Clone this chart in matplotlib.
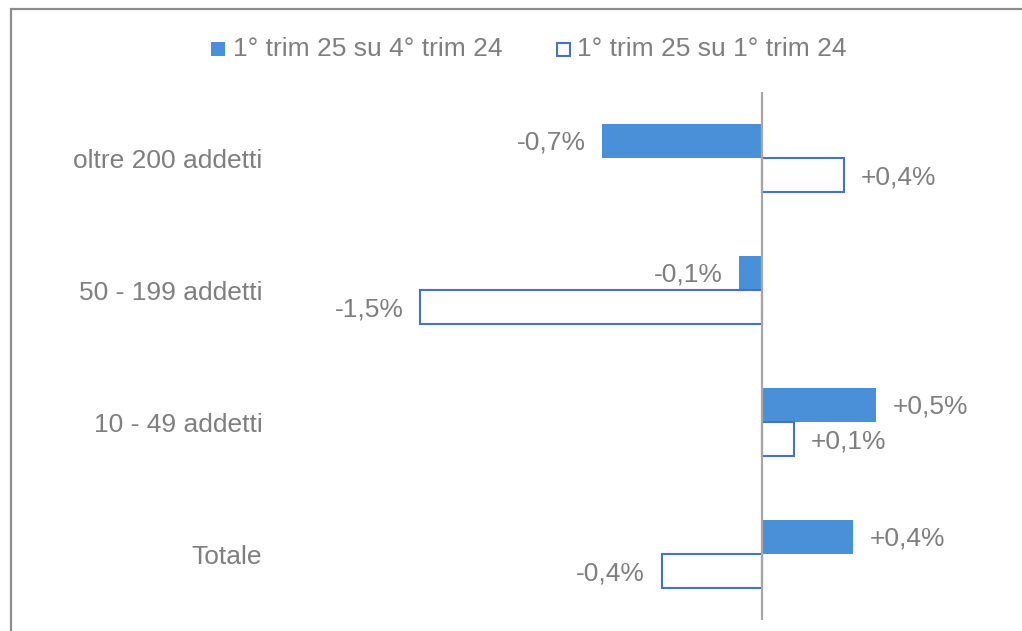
import matplotlib.pyplot as plt
from matplotlib.patches import Rectangle

plt.rcParams['font.family'] = ['Liberation Sans', 'DejaVu Sans']

categories = ["oltre 200 addetti", "50 - 199 addetti", "10 - 49 addetti", "Totale"]
series_names = ["1° trim 25 su 4° trim 24", "1° trim 25 su 1° trim 24"]
vs_prev_quarter = [-0.70, -0.10, 0.50, 0.40]
vs_prev_year = [0.36, -1.50, 0.14, -0.44]

blue_fill = "#4a90d9"
blue_edge = "#4472c4"
text_grey = "#7f7f7f"
fs = 19

W, H = 1022, 631
fig = plt.figure(figsize=(W / 100, H / 100), dpi=100)

# axes placed so that 0 sits at x=762 px and 1% spans 228 px
ax = fig.add_axes([306 / W, (H - 620) / H, 684 / W, 528 / H])
ax.set_xlim(-2, 1)
ax.set_ylim(3.5, -0.5)

bh = 0.26
ys = list(range(len(categories)))
b1 = ax.barh([y - bh / 2 for y in ys], vs_prev_quarter, height=bh,
             color=blue_fill, edgecolor="none")
b2 = ax.barh([y + bh / 2 for y in ys], vs_prev_year, height=bh,
             color="white", edgecolor=blue_edge, linewidth=1.5)


def fmt(v):
    s = f"{abs(v):.1f}".replace(".", ",")
    return ("+" if v >= 0 else "-") + s + "%"


for bars, vals in ((b1, vs_prev_quarter), (b2, vs_prev_year)):
    for bar, v in zip(bars, vals):
        yc = bar.get_y() + bar.get_height() / 2
        off = 12 if v >= 0 else -12
        ax.annotate(fmt(v), (v, yc), xytext=(off, -1.5), textcoords="offset points",
                    ha="left" if v >= 0 else "right", va="center",
                    fontsize=fs, color=text_grey)

ax.axvline(0, color="#a6a6a6", linewidth=1.6, zorder=3)

ax.set_yticks(ys)
ax.set_yticklabels(categories, fontsize=fs, color=text_grey)
ax.tick_params(axis="y", length=0, pad=31.5)
ax.set_xticks([])
for sp in ax.spines.values():
    sp.set_visible(False)

# legend drawn by hand along the top
sq = 14
fig.patches.append(Rectangle((211 / W, (H - 56) / H), sq / W, sq / H,
                             transform=fig.transFigure, facecolor=blue_fill,
                             edgecolor="none"))
fig.text(233 / W, (H - 49) / H, series_names[0], fontsize=fs, color=text_grey,
         va="center", ha="left")
fig.patches.append(Rectangle((556.5 / W, (H - 55.5) / H), 13 / W, 13 / H,
                             transform=fig.transFigure, facecolor="white",
                             edgecolor=blue_edge, linewidth=1.5))
fig.text(577 / W, (H - 49) / H, series_names[1], fontsize=fs, color=text_grey,
         va="center", ha="left")

# outer frame of the chart area
fig.patches.append(Rectangle((11 / W, -0.1), 1.2, (H - 9) / H + 0.1,
                             transform=fig.transFigure, facecolor="none",
                             edgecolor="#8c8c8c", linewidth=1.6))

fig.savefig("out.png", dpi=100)
